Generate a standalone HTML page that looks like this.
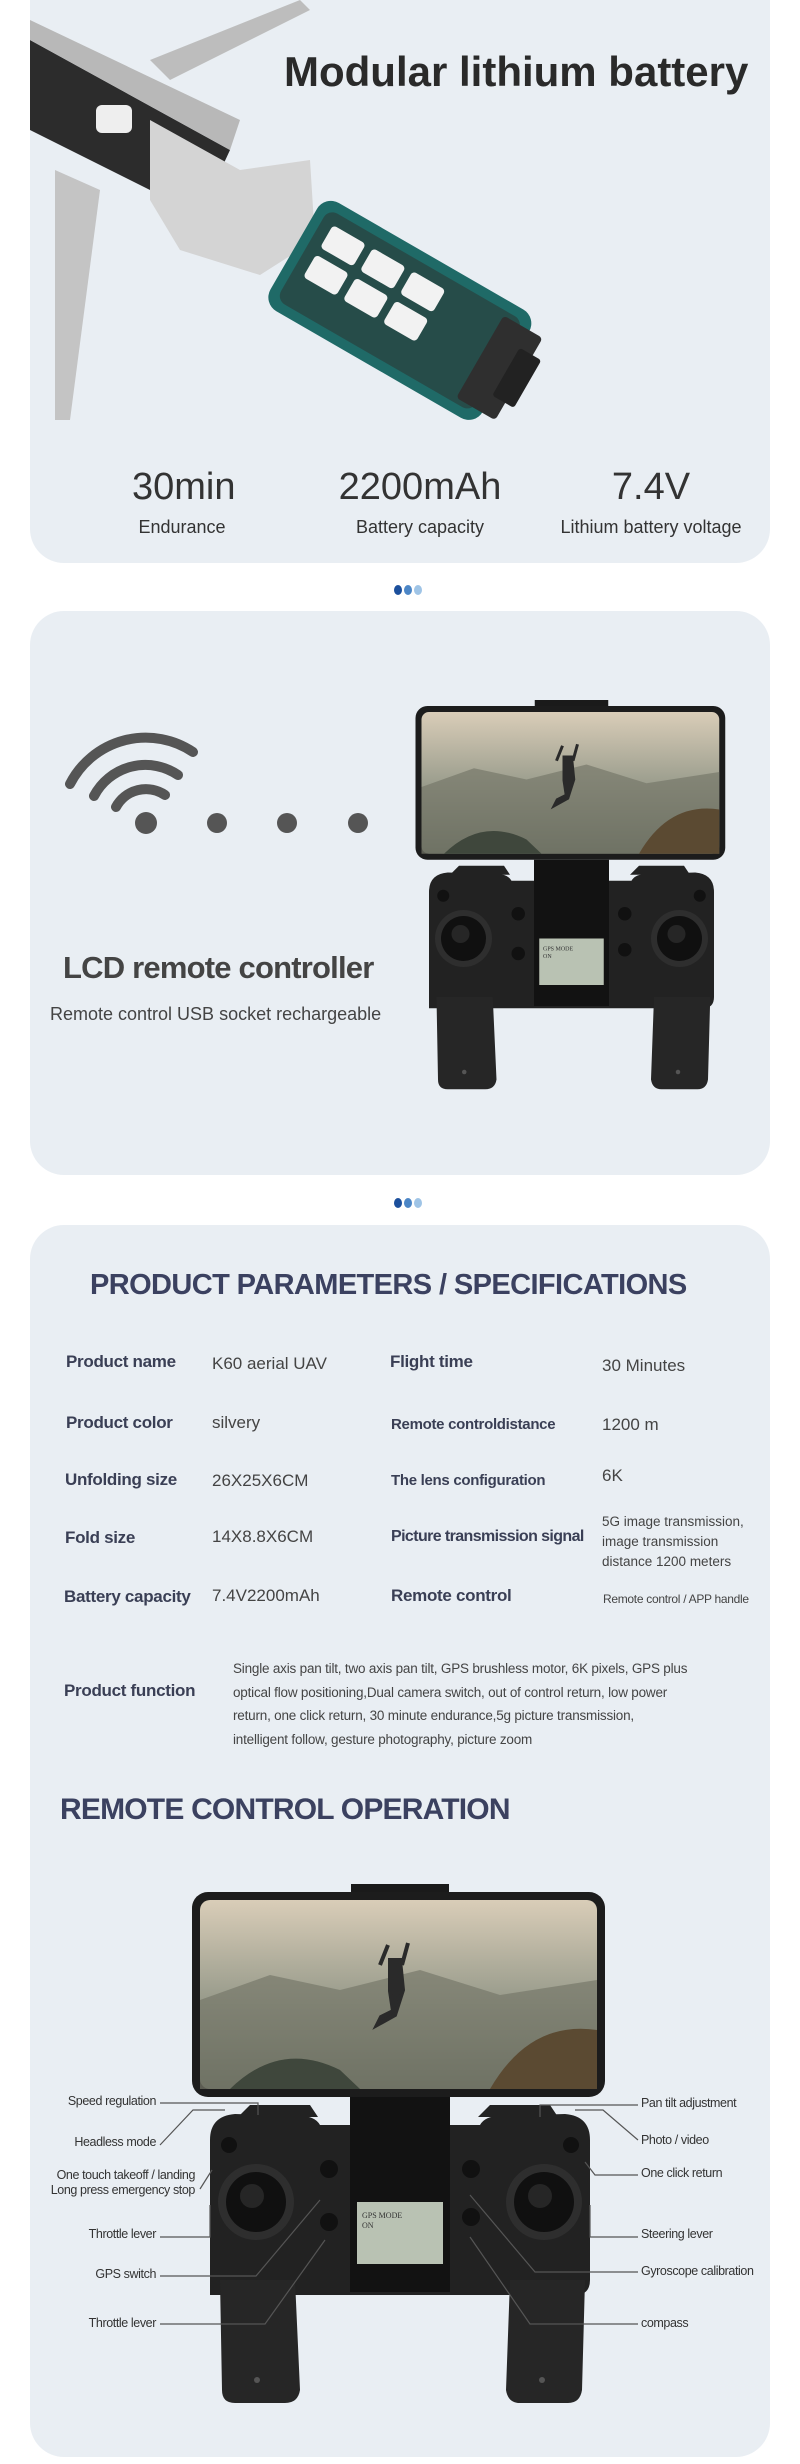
<!DOCTYPE html>
<html><head><meta charset="utf-8"><style>
*{margin:0;padding:0;box-sizing:border-box}
body{width:800px;height:2464px;background:#fff;font-family:"Liberation Sans",sans-serif;position:relative;overflow:hidden;color:#333}
.card{position:absolute;left:30px;width:740px;background:#e9eef3;border-radius:34px}
.t{position:absolute;white-space:nowrap}
.dots{position:absolute;left:394px;width:30px;height:10px}
.dots i{display:inline-block;width:8px;height:10px;border-radius:50%;margin-right:2px}
.lab{font-weight:bold;font-size:17px;color:#3a3f55;letter-spacing:-0.3px}
.val{font-size:17px;color:#444}
.rc{font-family:"Liberation Sans Narrow","Liberation Sans",sans-serif;font-size:12.5px;letter-spacing:-0.4px;color:#333;position:absolute;white-space:nowrap;line-height:15px}
</style></head><body>
<svg width="0" height="0" style="position:absolute">
<defs>
<linearGradient id="sky" x1="0" y1="0" x2="0" y2="1"><stop offset="0" stop-color="#d9cdb8"/><stop offset=".5" stop-color="#9c9e8e"/><stop offset="1" stop-color="#5e6659"/></linearGradient>
<symbol id="remote" viewBox="0 0 420 530">
<rect x="161" y="4" width="98" height="12" fill="#1a1a1a"/>
<rect x="2" y="12" width="413" height="205" rx="16" fill="#1c1c1c"/>
<rect x="10" y="20" width="397" height="189" rx="10" fill="url(#sky)"/>
<path d="M10 120 L80 95 L150 110 L230 90 L310 115 L407 100 L407 209 L10 209Z" fill="#76786a" opacity=".7"/>
<path d="M40 209 Q90 160 150 190 L170 209Z" fill="#3f473c"/>
<path d="M300 209 Q340 140 407 150 L407 209Z" fill="#5b4a32"/>
<path d="M190 85 l8 -20 M212 85 l6-22 M200 80 l10 0 l3 30 l-8 25 l-18 10 l4 -8 l12 -6 l-3 -20 z" stroke="#2a2a2a" stroke-width="4" fill="#2a2a2a"/>
<path d="M60 225 h60 l8 12 h-80z M300 225 h60 l8 12 h-80z" fill="#222"/>
<path d="M20 260 Q20 236 45 234 L110 236 Q125 236 130 245 L160 245 L160 234 L260 234 L260 245 L290 245 Q295 236 310 236 L375 234 Q400 236 400 260 L400 400 Q400 415 385 415 L20 415 Q20 415 20 400Z" fill="#222"/>
<path d="M30 400 L105 400 L110 510 Q108 523 95 523 L45 523 Q32 523 32 510Z M320 400 L395 400 L392 510 Q390 523 378 523 L330 523 Q318 523 316 510Z" fill="#262626"/>
<rect x="160" y="217" width="100" height="195" fill="#121212"/>
<rect x="167" y="322" width="86" height="62" fill="#b9c2b3"/>
<text x="172" y="338" font-size="8" fill="#333" font-family="Liberation Sans Narrow">GPS        MODE</text>
<text x="172" y="348" font-size="8" fill="#333" font-family="Liberation Sans Narrow">ON</text>
<circle cx="66" cy="322" r="38" fill="#2e2e2e"/><circle cx="66" cy="322" r="30" fill="#101010"/><circle cx="62" cy="316" r="12" fill="#262626"/>
<circle cx="354" cy="322" r="38" fill="#2e2e2e"/><circle cx="354" cy="322" r="30" fill="#101010"/><circle cx="350" cy="316" r="12" fill="#262626"/>
<circle cx="39" cy="265" r="8" fill="#111"/><circle cx="381" cy="265" r="8" fill="#111"/>
<circle cx="139" cy="289" r="9" fill="#111"/><circle cx="139" cy="342" r="9" fill="#111"/>
<circle cx="281" cy="289" r="9" fill="#111"/><circle cx="281" cy="337" r="9" fill="#111"/>
<circle cx="67" cy="500" r="3" fill="#555"/><circle cx="352" cy="500" r="3" fill="#555"/>
</symbol>
</defs></svg>

<!-- Card 1 -->
<div class="card" style="top:-40px;height:603px;overflow:hidden">
<svg width="740" height="603" style="position:absolute;left:0;top:0">
<g transform="translate(-30,40)">
<path d="M30 40 L230 150 L200 215 L30 130Z" fill="#2c2c2c"/>
<path d="M30 20 L240 120 L230 150 L30 40Z" fill="#b8b8b8"/>
<path d="M150 60 L300 0 L310 10 L170 80Z" fill="#bdbdbd"/>
<path d="M55 170 L100 190 L70 420 L55 420Z" fill="#c4c4c4"/>
<path d="M150 120 L240 170 L310 160 L315 240 L260 275 L180 250 L150 200Z" fill="#d4d4d4"/>
<rect x="96" y="105" width="36" height="28" rx="6" fill="#eee"/>
<g transform="translate(325,195) rotate(30)">
<rect x="0" y="0" width="245" height="125" rx="16" fill="#1f6a67"/>
<rect x="10" y="10" width="225" height="105" rx="10" fill="#2b3332" opacity=".55"/>
<rect x="22" y="22" width="38" height="26" rx="4" fill="#f2f2f2"/><rect x="22" y="56" width="38" height="26" rx="4" fill="#f2f2f2"/>
<rect x="68" y="22" width="38" height="26" rx="4" fill="#f2f2f2"/><rect x="68" y="56" width="38" height="26" rx="4" fill="#f2f2f2"/>
<rect x="114" y="22" width="38" height="26" rx="4" fill="#f2f2f2"/><rect x="114" y="56" width="38" height="26" rx="4" fill="#f2f2f2"/>
<rect x="215" y="15" width="45" height="95" rx="4" fill="#2f2f2f"/>
<rect x="245" y="35" width="25" height="55" rx="3" fill="#222"/>
</g></g>
</svg>
<div class="t" style="left:254px;top:88px;font-size:42px;font-weight:bold;color:#2a2a2a">Modular lithium battery</div>
<div class="t" style="left:102px;top:506px;width:100px;text-align:center;font-size:38px;color:#333">30min</div>
<div class="t" style="left:290px;top:506px;width:200px;text-align:center;font-size:38px;color:#333">2200mAh</div>
<div class="t" style="left:571px;top:506px;width:100px;text-align:center;font-size:38px;color:#333">7.4V</div>
<div class="t" style="left:52px;top:557px;width:200px;text-align:center;font-size:18px">Endurance</div>
<div class="t" style="left:290px;top:557px;width:200px;text-align:center;font-size:18px">Battery capacity</div>
<div class="t" style="left:511px;top:557px;width:220px;text-align:center;font-size:18px">Lithium battery voltage</div>
</div>
<div class="dots" style="top:582px"><i style="background:#1b4f9c"></i><i style="background:#4c86c6"></i><i style="background:#9fc4e6"></i></div>

<div class="card" style="top:611px;height:564px"></div>
<div class="card" style="top:1225px;height:1232px"></div>

<svg width="800" height="2464" style="position:absolute;left:0;top:0">
<g fill="none" stroke="#555" stroke-width="10" stroke-linecap="round">
<path d="M70 784 A 85 85 0 0 1 193 752"/>
<path d="M94 796 A 58 58 0 0 1 178 775"/>
<path d="M116 807 A 34 34 0 0 1 165 795"/>
</g>
<g fill="#555"><circle cx="146" cy="823" r="11"/><circle cx="217" cy="823" r="10"/><circle cx="287" cy="823" r="10"/><circle cx="358" cy="823" r="10"/></g>
<use href="#remote" x="414" y="697" width="315" height="397.5"/>
<use href="#remote" x="190" y="1880" width="420" height="530"/>
<g fill="none" stroke="#555" stroke-width="1.2">
<path d="M160 2103 H258 V2115"/>
<path d="M160 2145 L193 2110 H225"/>
<path d="M200 2189 L212 2170"/>
<path d="M160 2237 H210 V2205"/>
<path d="M160 2276 H256 L320 2200"/>
<path d="M160 2324 H265 L325 2240"/>
<path d="M638 2105 H540 V2117"/>
<path d="M638 2140 L603 2110 H575"/>
<path d="M638 2175 H595 L585 2162"/>
<path d="M638 2237 H590 V2205"/>
<path d="M638 2272 H535 L470 2195"/>
<path d="M638 2324 H530 L470 2237"/>
</g>
</svg>
<div class="t" style="left:63px;top:950px;font-size:31px;font-weight:bold;color:#444;letter-spacing:-0.8px">LCD remote controller</div>
<div class="t" style="left:50px;top:1004px;font-size:18px;color:#444">Remote control USB socket rechargeable</div>
<div class="dots" style="top:1195px"><i style="background:#1b4f9c"></i><i style="background:#4c86c6"></i><i style="background:#9fc4e6"></i></div>

<div class="t" style="left:90px;top:1269px;font-size:29px;font-weight:bold;color:#3b4160;letter-spacing:-0.6px">PRODUCT PARAMETERS / SPECIFICATIONS</div>
<div class="t lab" style="left:66px;top:1352px">Product name</div>
<div class="t val" style="left:212px;top:1354px">K60 aerial UAV</div>
<div class="t lab" style="left:390px;top:1352px">Flight time</div>
<div class="t val" style="left:602px;top:1356px">30 Minutes</div>
<div class="t lab" style="left:66px;top:1413px">Product color</div>
<div class="t val" style="left:212px;top:1413px">silvery</div>
<div class="t lab" style="left:391px;top:1416px;font-size:15px">Remote controldistance</div>
<div class="t val" style="left:602px;top:1415px">1200 m</div>
<div class="t lab" style="left:65px;top:1470px">Unfolding size</div>
<div class="t val" style="left:212px;top:1471px">26X25X6CM</div>
<div class="t lab" style="left:391px;top:1472px;font-size:15px">The lens configuration</div>
<div class="t val" style="left:602px;top:1466px">6K</div>
<div class="t lab" style="left:65px;top:1528px">Fold size</div>
<div class="t val" style="left:212px;top:1527px">14X8.8X6CM</div>
<div class="t lab" style="left:391px;top:1528px;font-size:16px;letter-spacing:-0.6px">Picture transmission signal</div>
<div class="t" style="left:602px;top:1512px;font-size:13.5px;line-height:20px;color:#444">5G image transmission,<br>image transmission<br>distance 1200 meters</div>
<div class="t lab" style="left:64px;top:1587px">Battery capacity</div>
<div class="t val" style="left:212px;top:1586px">7.4V2200mAh</div>
<div class="t lab" style="left:391px;top:1586px">Remote control</div>
<div class="t" style="left:603px;top:1592px;font-size:12px;color:#444;letter-spacing:-0.3px">Remote control / APP handle</div>
<div class="t lab" style="left:64px;top:1681px">Product function</div>
<div class="t" style="left:233px;top:1657px;font-size:13.5px;line-height:23.5px;color:#444;letter-spacing:-0.2px">Single axis pan tilt, two axis pan tilt, GPS brushless motor, 6K pixels, GPS plus<br>optical flow positioning,Dual camera switch, out of control return, low power<br>return, one click return, 30 minute endurance,5g picture transmission,<br>intelligent follow, gesture photography, picture zoom</div>
<div class="t" style="left:60px;top:1793px;font-size:30px;font-weight:bold;color:#3b4160;letter-spacing:-0.8px">REMOTE CONTROL OPERATION</div>

<div class="rc" style="right:644px;top:2094px">Speed regulation</div>
<div class="rc" style="right:644px;top:2135px">Headless mode</div>
<div class="rc" style="right:605px;top:2168px;text-align:right">One touch takeoff / landing<br>Long press emergency stop</div>
<div class="rc" style="right:644px;top:2227px">Throttle lever</div>
<div class="rc" style="right:644px;top:2267px">GPS switch</div>
<div class="rc" style="right:644px;top:2316px">Throttle lever</div>
<div class="rc" style="left:641px;top:2096px">Pan tilt adjustment</div>
<div class="rc" style="left:641px;top:2133px">Photo / video</div>
<div class="rc" style="left:641px;top:2166px">One click return</div>
<div class="rc" style="left:641px;top:2227px">Steering lever</div>
<div class="rc" style="left:641px;top:2264px">Gyroscope calibration</div>
<div class="rc" style="left:641px;top:2316px">compass</div>
</body></html>
